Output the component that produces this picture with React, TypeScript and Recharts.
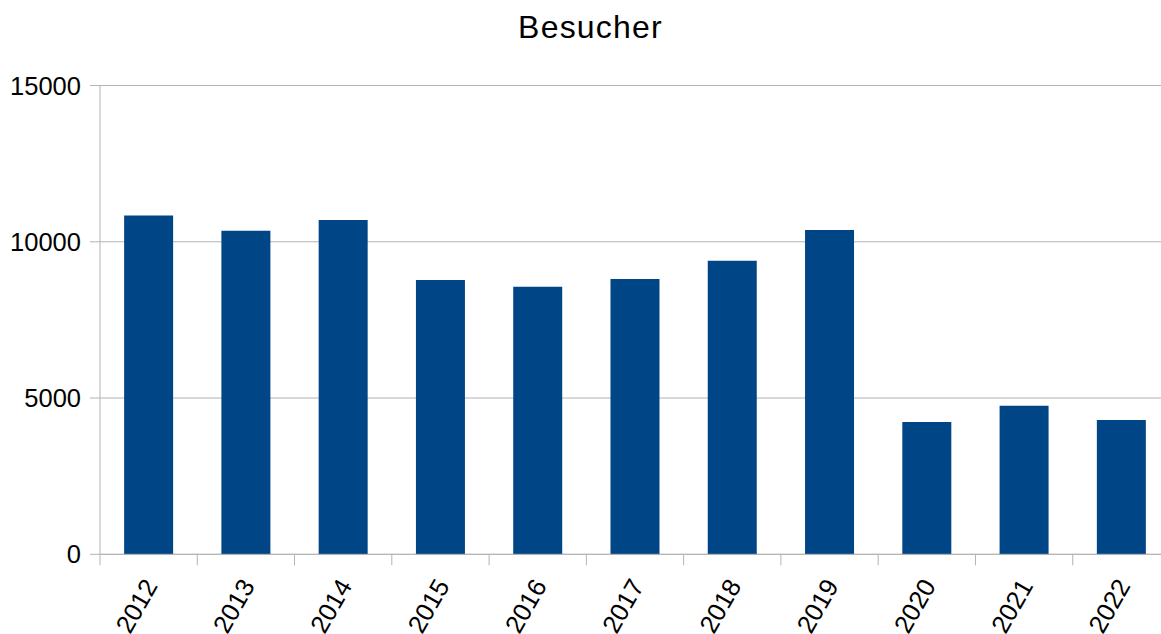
import React from "react";
import { Bar, BarChart, CartesianGrid, XAxis, YAxis } from "recharts";

const years = ["2012", "2013", "2014", "2015", "2016", "2017", "2018", "2019", "2020", "2021", "2022"];
const visitors = [10840, 10350, 10700, 8780, 8560, 8810, 9390, 10380, 4235, 4750, 4300];
const yTicks = [0, 5000, 10000, 15000];

const data = years.map((year, i) => ({ year, besucher: visitors[i] }));

const FONT = "'Liberation Sans', Arial, sans-serif";
const GRAY = "#b3b3b3";

type TickProps = {
  x?: number;
  y?: number;
  payload?: { value: string; offset?: number };
};

// category labels rotated, plus tick marks between the categories
const YearTick = ({ x = 0, y = 0, payload }: TickProps) => {
  const half = payload?.offset ?? 48.6;
  const tx = x + 2;
  const ty = y + 27;
  return (
    <g>
      <line x1={x - half} x2={x - half} y1={y} y2={y + 11} stroke={GRAY} />
      <text
        x={tx}
        y={ty}
        transform={`rotate(-60 ${tx} ${ty})`}
        textAnchor="end"
        dominantBaseline="central"
        fontSize={25.5}
        fontFamily={FONT}
        fill="#000"
      >
        {payload?.value}
      </text>
    </g>
  );
};

export default function App() {
  return (
    <div
      style={{
        position: "absolute",
        left: 0,
        top: 0,
        width: 1161,
        height: 634,
        overflow: "hidden",
        background: "#fff",
      }}
    >
      <div
        style={{
          position: "absolute",
          left: 0,
          top: 11,
          width: 1181,
          textAlign: "center",
          fontFamily: FONT,
          fontSize: 32,
          lineHeight: "32px",
          letterSpacing: 1.2,
          color: "#000",
        }}
      >
        Besucher
      </div>
      <BarChart
        width={1172}
        height={634}
        data={data}
        margin={{ top: 85.5, right: 2, bottom: 0, left: 0 }}
        barCategoryGap="24.8%"
      >
        <CartesianGrid vertical={false} stroke={GRAY} />
        <XAxis
          dataKey="year"
          interval={0}
          height={79.7}
          axisLine={{ stroke: GRAY }}
          tickLine={false}
          tickSize={0}
          tickMargin={0}
          tick={<YearTick />}
        />
        <YAxis
          domain={[0, 15000]}
          ticks={yTicks}
          width={100}
          axisLine={{ stroke: GRAY }}
          tickLine={{ stroke: GRAY }}
          tickSize={10}
          tickMargin={9}
          tick={{ fill: "#000", fontSize: 25.5, fontFamily: FONT }}
        />
        <Bar dataKey="besucher" fill="#004586" isAnimationActive={false} />
      </BarChart>
    </div>
  );
}
